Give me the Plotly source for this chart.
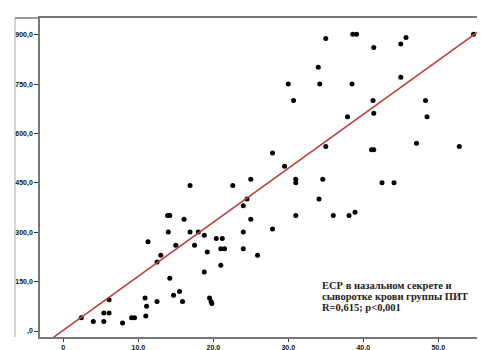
import plotly.graph_objects as go

x_vals = [2.4, 4.0, 5.4, 5.4, 6.1, 6.1, 7.9, 9.1, 9.5, 11.0, 10.9, 11.1, 12.5, 11.3, 13.0, 12.5,
          13.9, 14.2, 14.0, 14.2, 14.7, 15.5, 15.9, 15.0, 16.1, 16.9, 16.9, 17.5, 18.0, 18.8,
          18.8, 19.2, 19.5, 19.7, 19.8, 20.4, 21.2, 21.0, 21.5, 21.0, 22.6, 24.0, 24.0, 24.0,
          24.5, 25.0, 25.0, 25.9, 27.9, 27.9, 29.5, 30.0, 30.7, 31.0, 31.0, 31.0, 34.0, 34.2,
          35.0, 35.0, 34.1, 34.6, 36.0, 38.1, 38.9, 37.9, 38.5, 38.6, 39.1, 41.4, 41.3, 41.4,
          41.1, 41.4, 42.5, 44.1, 45.0, 45.0, 45.7, 47.1, 48.3, 48.5, 52.8, 54.7]
y_vals = [40, 29, 29, 55, 55, 95, 24, 40, 40, 46, 100, 75, 90, 271, 230, 210,
          351, 351, 301, 160, 109, 120, 90, 261, 340, 442, 301, 261, 301, 291,
          179, 240, 100, 90, 84, 281, 281, 250, 250, 200, 442, 301, 250, 381,
          401, 461, 340, 230, 310, 541, 501, 751, 701, 461, 451, 351, 802, 751,
          889, 561, 401, 461, 351, 351, 361, 651, 751, 902, 902, 862, 701, 662,
          551, 551, 451, 451, 771, 872, 892, 571, 701, 651, 561, 902]

fit_intercept = 2.4
fit_slope = 16.4

x_range = [-3.11, 57.3]
y_range = [-18.2, 951.4]

y_tickvals = [0, 150, 300, 450, 600, 750, 900]
y_ticktext = [",0", "150,0", "300,0", "450,0", "600,0", "750,0", "900,0"]
x_tickvals = [0, 10, 20, 30, 40, 50]
x_ticktext = ["0", "10,0", "20,0", "30,0", "40,0", "50,0"]

note_lines = ["ЕСР в назальном секрете и",
              "сыворотке крови группы ПИТ",
              "R=0,615; p&lt;0,001"]

fig = go.Figure()
fig.add_trace(go.Scatter(
    x=x_vals, y=y_vals, mode="markers",
    marker=dict(color="black", size=5, line=dict(width=0)),
    showlegend=False, hoverinfo="skip"))
fig.add_trace(go.Scatter(
    x=x_range, y=[fit_intercept + fit_slope * v for v in x_range], mode="lines",
    line=dict(color="#b84440", width=1.6),
    showlegend=False, hoverinfo="skip"))

tick_font = dict(family="Liberation Sans", size=7, color="#111", weight="bold")
note_font = dict(family="Liberation Serif", size=10.5, color="#222", weight="bold")

plot_top, plot_bottom = 10, 329
plot_h = plot_bottom - plot_top
note_y = [277, 288, 299]
annotations = [dict(
    x=(312 - 32) / 453, y=(plot_bottom - py) / plot_h, xref="paper", yref="paper",
    showarrow=False, xanchor="left", yanchor="middle", align="left", text=t, font=note_font)
    for t, py in zip(note_lines, note_y)]

fig.update_layout(
    width=485, height=350,
    margin=dict(l=32, r=0, t=plot_top, b=350 - plot_bottom),
    paper_bgcolor="white", plot_bgcolor="white",
    xaxis=dict(range=x_range, tickvals=x_tickvals, ticktext=x_ticktext,
               showgrid=False, zeroline=False, showline=True, linecolor="#777",
               linewidth=1.5, mirror=True, ticks="outside", ticklen=3, tickcolor="#333",
               tickfont=tick_font),
    yaxis=dict(range=y_range, tickvals=y_tickvals, ticktext=y_ticktext,
               showgrid=False, zeroline=False, showline=True, linecolor="#777",
               linewidth=1.5, ticks="outside", ticklen=4, tickcolor="#333",
               tickfont=tick_font),
    shapes=[
        dict(type="line", xref="paper", yref="paper", x0=-0.0552, x1=-0.0552, y0=0, y1=1,
             line=dict(color="#aaa", width=1)),
        dict(type="line", xref="paper", yref="paper", x0=-0.0552, x1=0, y0=1, y1=1,
             line=dict(color="#777", width=1.5)),
    ],
    annotations=annotations,
)

fig.write_html("out.html")
